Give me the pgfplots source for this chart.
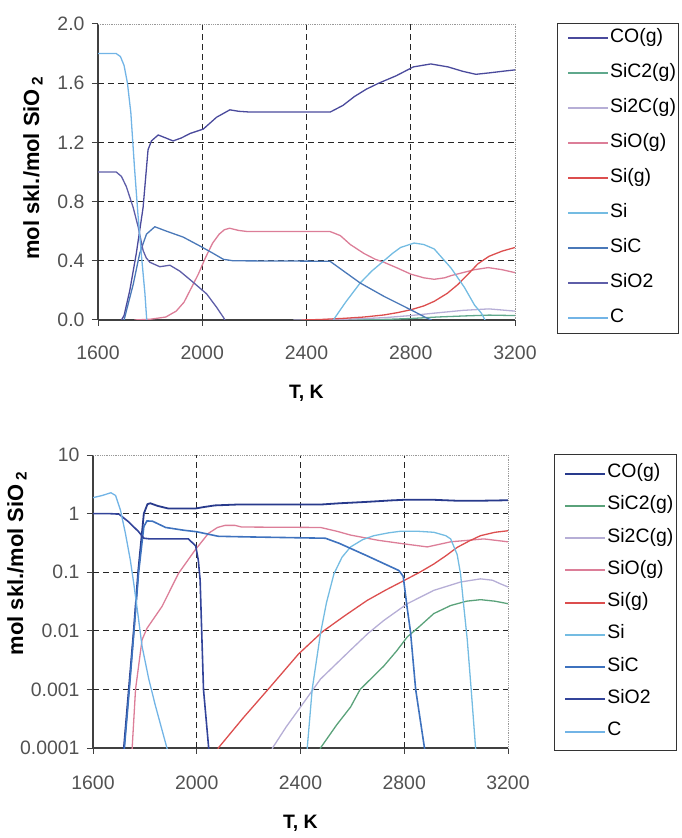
\documentclass[border=0pt]{standalone}
\usepackage{fontspec}
\setmainfont{Liberation Sans}
\usepackage{pgfplots}
\pgfplotsset{compat=1.18}

% series colours
\definecolor{cCO}{HTML}{4A4A9C}
\definecolor{cSiCtwo}{HTML}{5FA88C}
\definecolor{cSitwoC}{HTML}{B6AED6}
\definecolor{cSiOg}{HTML}{DC7E98}
\definecolor{cSig}{HTML}{DC4E4E}
\definecolor{cSi}{HTML}{74BCE2}
\definecolor{cSiC}{HTML}{4A78B8}
\definecolor{cSiOtwo}{HTML}{5E5EA8}
\definecolor{cC}{HTML}{72B4E6}
% darker versions used on the log chart
\definecolor{dCO}{HTML}{283A8C}
\definecolor{dSiOtwo}{HTML}{33449A}
\definecolor{dSiC}{HTML}{3E72BE}
\definecolor{dSiCtwo}{HTML}{5AA27A}

\newcommand\tickfont{\fontsize{19.5}{22}\selectfont}
\newcommand\legfont{\fontsize{19.5}{22}\selectfont}
\newcommand\labfont{\fontsize{19.5}{22}\selectfont\bfseries}
\newcommand\ylabfont{\fontsize{22}{24}\selectfont\bfseries}

\pgfplotsset{
  chem/.style={
    scale only axis,
    axis x line*=bottom, axis y line*=left,
    axis line style={draw=black!75, line width=1.3bp},
    tick align=outside,
    major tick length=6bp,
    tick style={draw=black!75, line width=1bp},
    xmin=1600, xmax=3200,
    xtick={1600,2000,2400,2800,3200},
    xticklabels={1600,2000,2400,2800,3200},
    ticklabel style={font=\tickfont, text=black!68},
    yticklabel style={xshift=-4bp},
    extra x ticks={2000,2400,2800},
    extra x tick labels={,,},
    extra x tick style={grid=major},
    major grid style={draw=black!85, line width=1.1bp, dash pattern=on 6bp off 4bp},
    every axis plot/.append style={line width=1.3bp},
    legend image code/.code={\path (0bp,0bp); \draw[##1, line width=2bp] (8bp,0bp) -- (48bp,0bp);},
    legend cell align=left,
    legend style={anchor=north west, draw=black!80, line width=1bp,
      font=\legfont, inner xsep=2bp, fill=white,
      nodes={inner sep=1bp, text height=12bp, text depth=4bp}},
    xlabel={T, K},
    xlabel style={font=\labfont, at={(axis description cs:0.5,0)}, anchor=center},
    ylabel={mol skl./mol SiO\,\textsubscript{2}},
    ylabel style={font=\ylabfont, at={(axis description cs:0,0.5)}, anchor=center},
    after end axis/.code={\draw[black!40, densely dotted, line width=0.8bp]
      (rel axis cs:0,1) -- (rel axis cs:1,1) -- (rel axis cs:1,0);},
  }
}

\begin{document}
\begin{tikzpicture}
\useasboundingbox (0bp,0bp) rectangle (682bp,838bp);

% ---------------- linear scale ----------------
\begin{axis}[chem,
  at={(98bp,518bp)}, anchor=south west,
  width=417bp, height=296bp,
  ymin=0, ymax=2,
  ytick={0,0.4,0.8,1.2,1.6,2.0},
  yticklabels={0.0,0.4,0.8,1.2,1.6,2.0},
  extra y ticks={0.4,0.8,1.2,1.6},
  extra y tick labels={,,,},
  extra y tick style={grid=major},
  xticklabel style={yshift=-16bp},
  xlabel style={yshift=-73bp},
  ylabel style={xshift=4bp, yshift=65bp},
  legend style={at={(rel axis cs:1.1007,1.0034)}, row sep=17bp, inner ysep=6bp},
]
\addplot[cCO] coordinates {(1690,0) (1700,0.03) (1722,0.2) (1747,0.45) (1773,0.76) (1792,1.15) (1805,1.21) (1831,1.25) (1860,1.23) (1888,1.21) (1920,1.23) (1953,1.26) (2004,1.29) (2055,1.37) (2106,1.42) (2140,1.41) (2183,1.405) (2491,1.405) (2540,1.45) (2584,1.51) (2630,1.56) (2677,1.60) (2744,1.65) (2810,1.71) (2877,1.73) (2943,1.71) (3000,1.68) (3050,1.66) (3103,1.67) (3150,1.68) (3200,1.69)};
\addlegendentry{CO(g)}
\addplot[cSiCtwo] coordinates {(2550,0) (2700,0.004) (2800,0.01) (2900,0.02) (3000,0.027) (3100,0.033) (3200,0.03)};
\addlegendentry{SiC2(g)}
\addplot[cSitwoC] coordinates {(2350,0) (2500,0.003) (2600,0.008) (2700,0.016) (2800,0.03) (2900,0.048) (3000,0.065) (3100,0.075) (3200,0.06)};
\addlegendentry{Si2C(g)}
\addplot[cSiOg] coordinates {(1740,0) (1800,0.005) (1860,0.02) (1900,0.06) (1930,0.12) (1959,0.22) (1985,0.31) (2012,0.42) (2040,0.52) (2065,0.58) (2085,0.61) (2105,0.62) (2140,0.605) (2172,0.598) (2490,0.598) (2530,0.57) (2568,0.51) (2620,0.45) (2664,0.41) (2697,0.39) (2750,0.35) (2800,0.31) (2850,0.285) (2890,0.275) (2930,0.285) (2955,0.30) (3000,0.32) (3045,0.34) (3097,0.354) (3150,0.34) (3200,0.32)};
\addlegendentry{SiO(g)}
\addplot[cSig] coordinates {(2380,0) (2450,0.003) (2542,0.011) (2620,0.02) (2697,0.034) (2750,0.05) (2800,0.069) (2850,0.095) (2890,0.126) (2940,0.18) (2981,0.24) (3020,0.31) (3058,0.38) (3100,0.43) (3150,0.465) (3200,0.49)};
\addlegendentry{Si(g)}
\addplot[cSi] coordinates {(2503,0) (2550,0.12) (2606,0.25) (2650,0.33) (2697,0.40) (2730,0.45) (2761,0.49) (2813,0.52) (2850,0.51) (2890,0.48) (2920,0.42) (2955,0.35) (3006,0.22) (3045,0.10) (3071,0.046) (3085,0)};
\addlegendentry{Si}
\addplot[cSiC] coordinates {(1700,0) (1735,0.24) (1760,0.45) (1786,0.58) (1818,0.63) (1863,0.60) (1927,0.56) (1991,0.50) (2042,0.45) (2081,0.41) (2119,0.40) (2490,0.397) (2606,0.25) (2697,0.16) (2800,0.069) (2864,0.011) (2880,0)};
\addlegendentry{SiC}
\addplot[cSiOtwo] coordinates {(1600,1.0) (1670,1.0) (1690,0.97) (1709,0.90) (1735,0.76) (1754,0.63) (1773,0.47) (1785,0.42) (1799,0.39) (1837,0.36) (1876,0.37) (1914,0.33) (1965,0.255) (2017,0.176) (2055,0.086) (2081,0.018) (2087,0)};
\addlegendentry{SiO2}
\addplot[cC] coordinates {(1600,1.80) (1670,1.80) (1686,1.78) (1700,1.72) (1713,1.60) (1726,1.40) (1740,1.03) (1753,0.72) (1766,0.45) (1780,0.18) (1787,0)};
\addlegendentry{C}
\end{axis}

% ---------------- logarithmic scale ----------------
\begin{axis}[chem,
  at={(93bp,90bp)}, anchor=south west,
  width=415bp, height=293bp,
  ymode=log, ymin=1e-4, ymax=10,
  ytick={1e-4,1e-3,1e-2,1e-1,1,10},
  yticklabels={0.0001,0.001,0.01,0.1,1,10},
  yminorticks=false,
  extra y ticks={1e-3,1e-2,1e-1,1},
  extra y tick labels={,,,},
  extra y tick style={grid=major},
  xticklabel style={yshift=-18bp},
  xlabel style={yshift=-75bp},
  ylabel style={xshift=38bp, yshift=76bp},
  legend style={at={(rel axis cs:1.111,1.0034)}, row sep=14.25bp, inner ysep=10bp},
]
\addplot[dCO, line width=1.8bp] coordinates {(1715,5e-5) (1719,1e-4) (1738,1e-3) (1757,0.01) (1774,0.1) (1796,1.0) (1810,1.45) (1821,1.5) (1850,1.35) (1891,1.22) (1994,1.22) (2030,1.3) (2070,1.38) (2160,1.43) (2480,1.43) (2550,1.5) (2650,1.58) (2750,1.68) (2800,1.72) (2900,1.73) (3000,1.66) (3100,1.66) (3200,1.69)};
\addlegendentry{CO(g)}
\addplot[dSiCtwo] coordinates {(2465,5e-5) (2477,1e-4) (2540,2.5e-4) (2593,5e-4) (2630,0.001) (2721,0.0025) (2770,0.0045) (2812,0.0079) (2860,0.012) (2914,0.0197) (2979,0.027) (3040,0.032) (3094,0.034) (3150,0.032) (3200,0.029)};
\addlegendentry{SiC2(g)}
\addplot[cSitwoC] coordinates {(2280,5e-5) (2292,1e-4) (2345,2.3e-4) (2400,5e-4) (2477,0.0015) (2593,0.0047) (2660,0.009) (2721,0.015) (2812,0.029) (2914,0.049) (3017,0.068) (3094,0.077) (3140,0.073) (3172,0.063) (3200,0.056)};
\addlegendentry{Si2C(g)}
\addplot[cSiOg] coordinates {(1748,5e-5) (1751,1e-4) (1764,0.001) (1789,0.007) (1808,0.011) (1866,0.026) (1930,0.096) (1994,0.24) (2045,0.46) (2080,0.58) (2109,0.63) (2147,0.63) (2173,0.59) (2477,0.58) (2540,0.5) (2593,0.43) (2700,0.35) (2786,0.31) (2889,0.27) (2979,0.33) (3107,0.37) (3200,0.33)};
\addlegendentry{SiO(g)}
\addplot[cSig] coordinates {(2070,5e-5) (2083,1e-4) (2180,3.3e-4) (2275,0.001) (2392,0.004) (2484,0.0096) (2570,0.018) (2657,0.033) (2730,0.05) (2799,0.072) (2860,0.1) (2914,0.138) (2960,0.19) (3004,0.265) (3050,0.34) (3094,0.42) (3150,0.48) (3200,0.51)};
\addlegendentry{Si(g)}
\addplot[cSi] coordinates {(2420,5e-5) (2426,1e-4) (2445,0.001) (2477,0.009) (2500,0.03) (2529,0.094) (2560,0.18) (2593,0.27) (2640,0.36) (2683,0.42) (2740,0.47) (2786,0.50) (2850,0.50) (2914,0.48) (2960,0.42) (2979,0.37) (3004,0.2) (3017,0.094) (3030,0.025) (3043,0.007) (3058,0.001) (3075,1e-4) (3080,5e-5)};
\addlegendentry{Si}
\addplot[dSiC, line width=1.6bp] coordinates {(1717,5e-5) (1721,1e-4) (1740,1e-3) (1758,0.01) (1776,0.1) (1796,0.6) (1808,0.75) (1830,0.74) (1880,0.58) (1950,0.52) (2000,0.49) (2050,0.44) (2083,0.41) (2200,0.40) (2496,0.38) (2550,0.31) (2657,0.19) (2779,0.107) (2796,0.085) (2811,0.025) (2824,0.0097) (2844,0.001) (2878,1e-4) (2890,5e-5)};
\addlegendentry{SiC}
\addplot[dSiOtwo, line width=1.6bp] coordinates {(1600,1.0) (1660,1.0) (1700,0.98) (1738,0.72) (1776,0.49) (1796,0.38) (1820,0.37) (1968,0.37) (1996,0.28) (2006,0.16) (2013,0.074) (2019,0.01) (2026,0.001) (2046,1e-4) (2055,4e-5)};
\addlegendentry{SiO2}
\addplot[cC] coordinates {(1600,1.87) (1636,2.04) (1669,2.27) (1687,2.04) (1706,1.14) (1725,0.46) (1744,0.16) (1757,0.065) (1774,0.018) (1789,0.0055) (1815,0.0015) (1840,5.4e-4) (1885,1e-4) (1900,7e-5)};
\addlegendentry{C}
\end{axis}
\end{tikzpicture}
\end{document}
